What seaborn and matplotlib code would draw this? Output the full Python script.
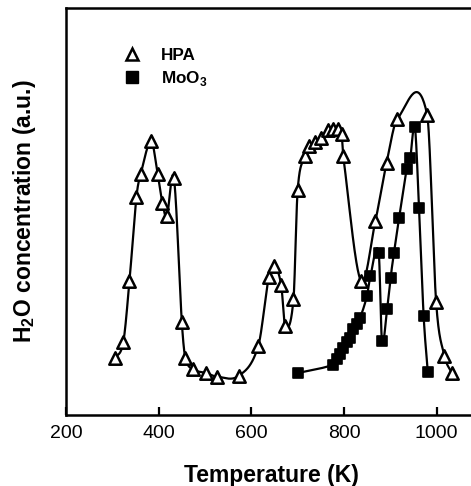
import numpy as np
import pandas as pd
import matplotlib
matplotlib.use("Agg")
import matplotlib.pyplot as plt
from matplotlib.lines import Line2D
import seaborn as sns

# H2O desorption profiles (a.u.) versus temperature (K)
hpa_temp = [305, 323.5, 337, 352, 361, 384, 398, 408, 417.5, 433, 450, 457.5,
            474, 503, 526, 572.6, 615, 638, 650, 664.5, 673, 691, 700, 715.5,
            724, 737, 750, 766, 776.5, 787.5, 795, 798.5, 836.5, 867.8, 892,
            915, 979.5, 999, 1017, 1033]
hpa_h2o = [1.42, 1.82, 3.36, 5.46, 6.03, 6.86, 6.03, 5.32, 4.98, 5.93, 2.33, 1.44,
           1.15, 1.05, 0.96, 0.98, 1.73, 3.47, 3.73, 3.26, 2.23, 2.90, 5.63, 6.50,
           6.73, 6.83, 6.95, 7.15, 7.18, 7.18, 7.03, 6.48, 3.36, 4.86, 6.32,
           7.42, 7.53, 2.82, 1.48, 1.05]

moo3_temp = [700, 776.7, 784, 791, 798.5, 805.7, 813, 820, 827.5, 835, 849.5,
             857, 875, 882, 893, 900.6, 908, 919, 935.5, 943, 953, 962, 972, 981]
moo3_h2o = [1.05, 1.26, 1.40, 1.53, 1.69, 1.82, 1.94, 2.15, 2.28, 2.44, 2.98,
            3.48, 4.07, 1.86, 2.65, 3.44, 4.07, 4.94, 6.17, 6.44, 7.22, 5.19, 2.48, 1.07]

series_names = ["HPA", "MoO$_{\\mathbf{3}}$"]

X_LIM = (200, 1085)
Y_LIM = (0, 10.2)
X_TICKS = [200, 400, 600, 800, 1000]


def hermite_spline(x, y, per_seg=40):
    """Piecewise cubic Hermite curve y(x) with central-difference slopes."""
    x = np.asarray(x, float)
    y = np.asarray(y, float)
    n = len(x)
    m = np.empty(n)
    m[1:-1] = (y[2:] - y[:-2]) / (x[2:] - x[:-2])
    m[0] = (y[1] - y[0]) / (x[1] - x[0])
    m[-1] = (y[-1] - y[-2]) / (x[-1] - x[-2])
    xs, ys = [], []
    for k in range(n - 1):
        h = x[k + 1] - x[k]
        s = np.linspace(0, 1, per_seg)
        h00 = 2 * s ** 3 - 3 * s ** 2 + 1
        h10 = s ** 3 - 2 * s ** 2 + s
        h01 = -2 * s ** 3 + 3 * s ** 2
        h11 = s ** 3 - s ** 2
        yy = h00 * y[k] + h10 * h * m[k] + h01 * y[k + 1] + h11 * h * m[k + 1]
        xx = x[k] + s * h
        xs.append(xx if k == 0 else xx[1:])
        ys.append(yy if k == 0 else yy[1:])
    return np.concatenate(xs), np.concatenate(ys)


sns.set_theme(style="ticks")
plt.rcParams["font.family"] = ["Liberation Sans", "DejaVu Sans"]
plt.rcParams["mathtext.fontset"] = "custom"
plt.rcParams["mathtext.rm"] = "Liberation Sans"
plt.rcParams["mathtext.bf"] = "Liberation Sans:bold"
plt.rcParams["text.color"] = "black"
plt.rcParams["axes.labelcolor"] = "black"
plt.rcParams["xtick.color"] = "black"

fig = plt.figure(figsize=(4.71, 4.86), dpi=100)
ax = fig.add_axes([66 / 471, 71 / 486, 410 / 471, 407 / 486])

hpa_df = pd.DataFrame({"T": hpa_temp, "H2O": hpa_h2o})
moo_df = pd.DataFrame({"T": moo3_temp, "H2O": moo3_h2o})

for df in (hpa_df, moo_df):
    cx, cy = hermite_spline(df["T"], df["H2O"])
    sns.lineplot(x=cx, y=cy, sort=False, estimator=None, color="black",
                 linewidth=1.6, ax=ax, zorder=2)

sns.scatterplot(data=moo_df, x="T", y="H2O", marker="s", s=62, color="black",
                edgecolor="black", linewidth=1.2, ax=ax, zorder=3)
sns.scatterplot(data=hpa_df, x="T", y="H2O", marker="^", s=80, color="white",
                edgecolor="black", linewidth=1.8, ax=ax, zorder=4)

ax.set_xlim(*X_LIM)
ax.set_ylim(*Y_LIM)
ax.set_xticks(X_TICKS)
ax.set_yticks([])
ax.tick_params(axis="x", direction="in", length=6, width=1.6, pad=7,
               labelsize=14, colors="black")
for side in ("left", "bottom", "top"):
    ax.spines[side].set_linewidth(1.8)
    ax.spines[side].set_color("black")
ax.spines["right"].set_visible(False)

ax.set_xlabel("Temperature (K)", fontsize=16.5, fontweight="bold")
ax.set_ylabel("H$_{\\mathbf{2}}$O concentration (a.u.)", fontsize=16.5,
              fontweight="bold")
ax.xaxis.set_label_coords(0.5, -0.12)
ax.yaxis.set_label_coords(-0.068, 0.5)

handles = [
    Line2D([], [], marker="^", linestyle="none", markersize=9,
           markerfacecolor="white", markeredgecolor="black", markeredgewidth=1.8),
    Line2D([], [], marker="s", linestyle="none", markersize=8,
           markerfacecolor="black", markeredgecolor="black"),
]
leg = ax.legend(handles, series_names, loc="upper left",
                bbox_to_anchor=(0.103, 0.94), frameon=False,
                prop={"weight": "bold", "size": 12.3},
                handletextpad=1.2, labelspacing=0.35, handlelength=1.0)

fig.savefig("out.png", dpi=100)
